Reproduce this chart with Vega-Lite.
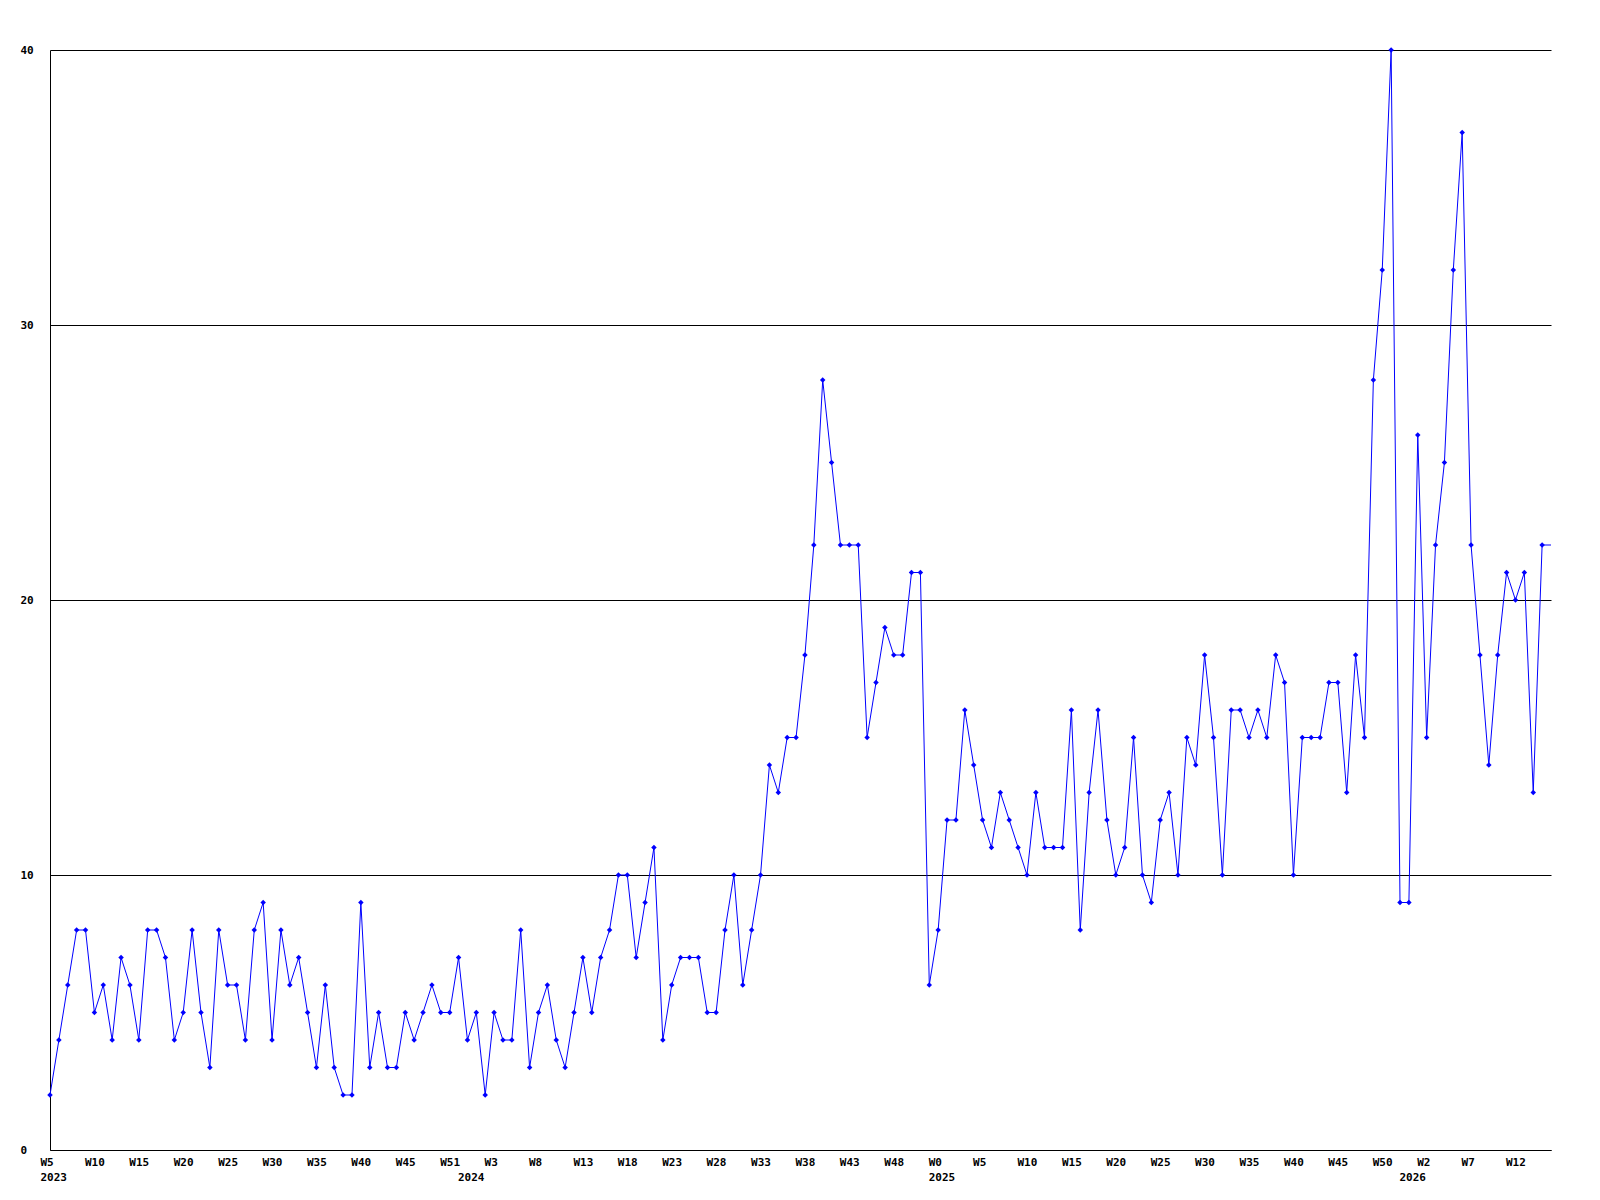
{
  "$schema": "https://vega.github.io/schema/vega-lite/v6.json",
  "width": 1501,
  "height": 1100,
  "autosize": {"type": "none"},
  "padding": {"left": 50, "top": 50, "right": 49, "bottom": 50},
  "background": "white",
  "config": {
    "view": {"stroke": null},
    "axis": {
      "labelFont": "DejaVu Sans Mono",
      "labelFontWeight": "bold",
      "labelFontSize": 11,
      "labelColor": "#000000",
      "domainColor": "#000000",
      "domainWidth": 1,
      "ticks": false,
      "tickSize": 0,
      "title": null,
      "labelOverlap": false,
      "labelFlush": false,
      "labelBound": false
    }
  },
  "data": {
    "values": [
      {"i":0,"v":2},{"i":1,"v":4},{"i":2,"v":6},{"i":3,"v":8},{"i":4,"v":8},{"i":5,"v":5},{"i":6,"v":6},{"i":7,"v":4},{"i":8,"v":7},{"i":9,"v":6},
      {"i":10,"v":4},{"i":11,"v":8},{"i":12,"v":8},{"i":13,"v":7},{"i":14,"v":4},{"i":15,"v":5},{"i":16,"v":8},{"i":17,"v":5},{"i":18,"v":3},{"i":19,"v":8},
      {"i":20,"v":6},{"i":21,"v":6},{"i":22,"v":4},{"i":23,"v":8},{"i":24,"v":9},{"i":25,"v":4},{"i":26,"v":8},{"i":27,"v":6},{"i":28,"v":7},{"i":29,"v":5},
      {"i":30,"v":3},{"i":31,"v":6},{"i":32,"v":3},{"i":33,"v":2},{"i":34,"v":2},{"i":35,"v":9},{"i":36,"v":3},{"i":37,"v":5},{"i":38,"v":3},{"i":39,"v":3},
      {"i":40,"v":5},{"i":41,"v":4},{"i":42,"v":5},{"i":43,"v":6},{"i":44,"v":5},{"i":45,"v":5},{"i":46,"v":7},{"i":47,"v":4},{"i":48,"v":5},{"i":49,"v":2},
      {"i":50,"v":5},{"i":51,"v":4},{"i":52,"v":4},{"i":53,"v":8},{"i":54,"v":3},{"i":55,"v":5},{"i":56,"v":6},{"i":57,"v":4},{"i":58,"v":3},{"i":59,"v":5},
      {"i":60,"v":7},{"i":61,"v":5},{"i":62,"v":7},{"i":63,"v":8},{"i":64,"v":10},{"i":65,"v":10},{"i":66,"v":7},{"i":67,"v":9},{"i":68,"v":11},{"i":69,"v":4},
      {"i":70,"v":6},{"i":71,"v":7},{"i":72,"v":7},{"i":73,"v":7},{"i":74,"v":5},{"i":75,"v":5},{"i":76,"v":8},{"i":77,"v":10},{"i":78,"v":6},{"i":79,"v":8},
      {"i":80,"v":10},{"i":81,"v":14},{"i":82,"v":13},{"i":83,"v":15},{"i":84,"v":15},{"i":85,"v":18},{"i":86,"v":22},{"i":87,"v":28},{"i":88,"v":25},{"i":89,"v":22},
      {"i":90,"v":22},{"i":91,"v":22},{"i":92,"v":15},{"i":93,"v":17},{"i":94,"v":19},{"i":95,"v":18},{"i":96,"v":18},{"i":97,"v":21},{"i":98,"v":21},{"i":99,"v":6},
      {"i":100,"v":8},{"i":101,"v":12},{"i":102,"v":12},{"i":103,"v":16},{"i":104,"v":14},{"i":105,"v":12},{"i":106,"v":11},{"i":107,"v":13},{"i":108,"v":12},{"i":109,"v":11},
      {"i":110,"v":10},{"i":111,"v":13},{"i":112,"v":11},{"i":113,"v":11},{"i":114,"v":11},{"i":115,"v":16},{"i":116,"v":8},{"i":117,"v":13},{"i":118,"v":16},{"i":119,"v":12},
      {"i":120,"v":10},{"i":121,"v":11},{"i":122,"v":15},{"i":123,"v":10},{"i":124,"v":9},{"i":125,"v":12},{"i":126,"v":13},{"i":127,"v":10},{"i":128,"v":15},{"i":129,"v":14},
      {"i":130,"v":18},{"i":131,"v":15},{"i":132,"v":10},{"i":133,"v":16},{"i":134,"v":16},{"i":135,"v":15},{"i":136,"v":16},{"i":137,"v":15},{"i":138,"v":18},{"i":139,"v":17},
      {"i":140,"v":10},{"i":141,"v":15},{"i":142,"v":15},{"i":143,"v":15},{"i":144,"v":17},{"i":145,"v":17},{"i":146,"v":13},{"i":147,"v":18},{"i":148,"v":15},{"i":149,"v":28},
      {"i":150,"v":32},{"i":151,"v":40},{"i":152,"v":9},{"i":153,"v":9},{"i":154,"v":26},{"i":155,"v":15},{"i":156,"v":22},{"i":157,"v":25},{"i":158,"v":32},{"i":159,"v":37},
      {"i":160,"v":22},{"i":161,"v":18},{"i":162,"v":14},{"i":163,"v":18},{"i":164,"v":21},{"i":165,"v":20},{"i":166,"v":21},{"i":167,"v":13},{"i":168,"v":22},{"i":169,"v":22}
    ]
  },
  "encoding": {
    "x": {
      "field": "i",
      "type": "quantitative",
      "scale": {"domain": [0, 169], "nice": false, "zero": false},
      "axis": {
        "grid": false,
        "values": [0,5,10,15,20,25,30,35,40,45,47,50,55,60,65,70,75,80,85,90,95,100,105,110,115,120,125,130,135,140,145,150,153,155,160,165],
        "labelAlign": "left",
        "labelOffset": -10,
        "labelPadding": 6,
        "labelBaseline": "top",
        "labelLineHeight": 15,
        "labelExpr": "datum.value == 0 ? ['W5','2023'] : datum.value == 47 ? ['','2024'] : datum.value == 100 ? ['W0','2025'] : datum.value == 153 ? ['','2026'] : ['W5','W10','W15','W20','W25','W30','W35','W40','W45','W51','W3','W8','W13','W18','W23','W28','W33','W38','W43','W48','W0','W5','W10','W15','W20','W25','W30','W35','W40','W45','W50','W2','W7','W12'][datum.value/5]"
      }
    },
    "y": {
      "field": "v",
      "type": "quantitative",
      "scale": {"domain": [0, 40], "nice": false},
      "axis": {
        "values": [0, 10, 20, 30, 40],
        "grid": true,
        "gridColor": "#000000",
        "gridOpacity": 1,
        "gridWidth": 1,
        "labelAlign": "left",
        "labelBaseline": "middle",
        "labelPadding": 30
      }
    }
  },
  "layer": [
    {"mark": {"type": "line", "color": "#0000ff", "strokeWidth": 1}},
    {
      "transform": [{"filter": "datum.i < 169"}],
      "mark": {"type": "point", "shape": "diamond", "filled": true, "color": "#0000ff", "size": 30, "opacity": 1}
    }
  ]
}
